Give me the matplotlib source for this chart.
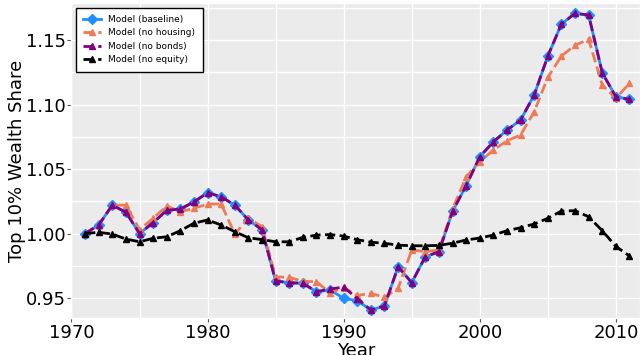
import numpy as np
import matplotlib
matplotlib.use('Agg')
import matplotlib.pyplot as plt
from matplotlib.ticker import MultipleLocator

plt.style.use('ggplot')

# Years covered by the model runs
years = np.arange(1971, 2012)

# Top 10% wealth share, normalised to 1971
baseline = [1.000, 1.0066, 1.022, 1.0165, 1.000, 1.0084, 1.018, 1.019, 1.0245, 1.0316,
            1.0285, 1.022, 1.0105, 1.003, 0.9632, 0.9619, 0.9614, 0.9549, 0.9562, 0.9498,
            0.9479, 0.9407, 0.9438, 0.9743, 0.9619, 0.982, 0.9859, 1.0172, 1.0372, 1.0595,
            1.0711, 1.0802, 1.0880, 1.1074, 1.1376, 1.1624, 1.1707, 1.1694, 1.1246, 1.1060,
            1.1040]
no_housing = [1.000, 1.0066, 1.022, 1.022, 1.003, 1.0118, 1.0213, 1.0169, 1.0195, 1.0229,
              1.0229, 0.9996, 1.0118, 1.0053, 0.9664, 0.966, 0.963, 0.9626, 0.9541, 0.958,
              0.952, 0.9536, 0.9505, 0.9575, 0.9872, 0.986, 0.9872, 1.019, 1.044, 1.0557,
              1.0647, 1.0719, 1.0764, 1.0944, 1.121, 1.1376, 1.146, 1.1505, 1.1151, 1.1048,
              1.1165]
no_bonds = [1.000, 1.0066, 1.022, 1.0165, 1.000, 1.0084, 1.018, 1.019, 1.0245, 1.0316,
            1.0285, 1.022, 1.0105, 1.003, 0.9632, 0.9619, 0.9614, 0.9549, 0.9570, 0.9585,
            0.9495, 0.9407, 0.9438, 0.9743, 0.9619, 0.982, 0.9859, 1.0172, 1.0372, 1.0595,
            1.0711, 1.0802, 1.0880, 1.1074, 1.1376, 1.1624, 1.1707, 1.1694, 1.1246, 1.1060,
            1.1040]
no_equity = [1.000, 1.0009, 0.9996, 0.9957, 0.9936, 0.9963, 0.9975, 1.0022, 1.008, 1.0105,
             1.0066, 1.0014, 0.9967, 0.9953, 0.9936, 0.9936, 0.997, 0.9988, 0.9992, 0.998,
             0.9952, 0.9933, 0.9924, 0.991, 0.9905, 0.9905, 0.9908, 0.9925, 0.995, 0.9965,
             0.9988, 1.0022, 1.0045, 1.0074, 1.0118, 1.0174, 1.0177, 1.013, 1.0022, 0.990,
             0.9826]

fig = plt.figure(figsize=(6.41, 3.55), dpi=100)
ax = fig.add_axes([0.1115, 0.1042, 0.8875, 0.8873])
ax.set_facecolor('#EBEBEB')

ax.plot(years, baseline, '-D', color='dodgerblue', lw=2, ms=5, label='Model (baseline)')
ax.plot(years, no_housing, '--^', color='#EE7B58', lw=2, ms=5, label='Model (no housing)')
ax.plot(years, no_bonds, '--^', color='purple', lw=2, ms=5, label='Model (no bonds)')
ax.plot(years, no_equity, '--^', color='black', lw=2, ms=5, label='Model (no equity)')

ax.set_xlim(1970, 2011.8)
ax.set_ylim(0.9345, 1.1787)
ax.xaxis.set_major_locator(MultipleLocator(10))
ax.xaxis.set_minor_locator(MultipleLocator(5))
ax.yaxis.set_major_locator(MultipleLocator(0.05))
ax.yaxis.set_minor_locator(MultipleLocator(0.025))
ax.grid(True, which='both', color='white', lw=1)
ax.tick_params(which='minor', length=0)
ax.tick_params(which='major', labelsize=13, labelcolor='black', length=3, pad=1)

ax.set_xlabel('Year', fontsize=13, color='black', labelpad=0)
ax.set_ylabel('Top 10% Wealth Share', fontsize=13, color='black', labelpad=0)

leg = ax.legend(loc='upper left', fontsize=6.5, fancybox=False, framealpha=1,
                facecolor='white', edgecolor='black', borderpad=0.8)
leg.get_frame().set_linewidth(1)

fig.savefig('out.png', dpi=100)
